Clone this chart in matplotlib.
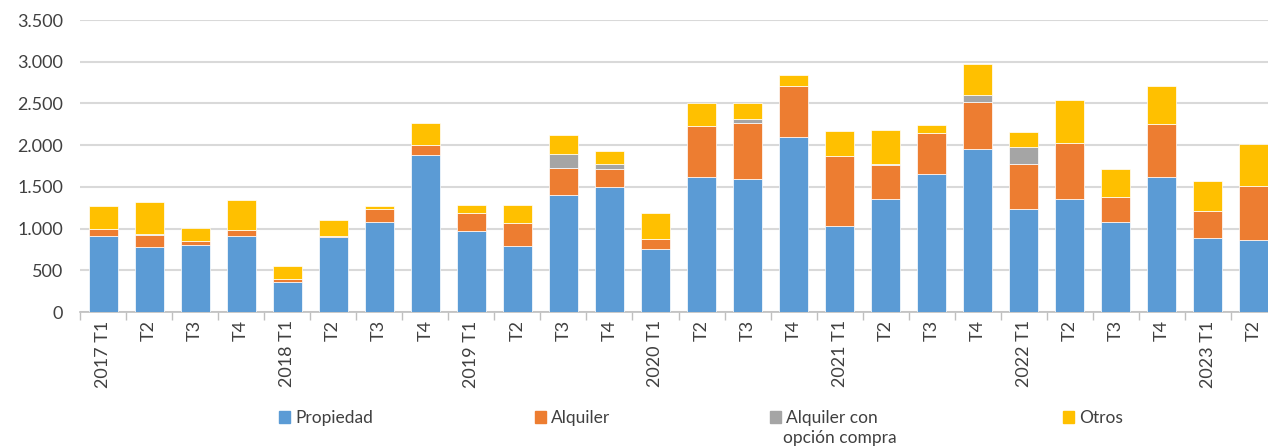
import numpy as np
import matplotlib
matplotlib.use('Agg')
import matplotlib.pyplot as plt
from matplotlib.patches import Patch

plt.rcParams['font.family'] = ['Lato', 'DejaVu Sans']

# datos
trimestres = ['2017 T1', 'T2', 'T3', 'T4', '2018 T1', 'T2', 'T3', 'T4',
              '2019 T1', 'T2', 'T3', 'T4', '2020 T1', 'T2', 'T3', 'T4',
              '2021 T1', 'T2', 'T3', 'T4', '2022 T1', 'T2', 'T3', 'T4',
              '2023 T1', 'T2']
propiedad = [910, 780, 800, 915, 365, 895, 1073, 1877,
             965, 797, 1400, 1493, 756, 1620, 1589, 2100,
             1032, 1349, 1660, 1952, 1229, 1349, 1080, 1613,
             888, 868]
alquiler = [80, 145, 50, 65, 35, 10, 163, 127,
            223, 264, 321, 216, 120, 612, 679, 612,
            840, 418, 488, 561, 540, 672, 300, 639,
            324, 644]
opcion_compra = [0, 5, 0, 0, 0, 0, 0, 0,
                 0, 0, 171, 60, 0, 0, 48, 0,
                 0, 5, 0, 91, 207, 0, 0, 0,
                 0, 0]
otros = [275, 390, 155, 360, 150, 195, 32, 257,
         92, 219, 232, 163, 305, 272, 188, 125,
         296, 405, 96, 365, 177, 519, 332, 456,
         356, 500]
yticks = [0, 500, 1000, 1500, 2000, 2500, 3000, 3500]

colores = ['#5B9BD5', '#ED7D31', '#A5A5A5', '#FFC000']
gris_txt = '#404040'

fig = plt.figure(figsize=(12.68, 4.48), dpi=100)
ax = fig.add_axes([80/1268, 136/448, 1197/1268, 292/448])

x = np.arange(len(trimestres))
base = np.zeros(len(trimestres))
for serie, col in zip([propiedad, alquiler, opcion_compra, otros], colores):
    ax.bar(x, serie, bottom=base, width=0.63, color=col, edgecolor='white', linewidth=0.5, zorder=3)
    base = base + np.array(serie)

ax.set_xlim(-0.5, len(trimestres) - 0.5)
ax.set_ylim(0, 3500)
ax.set_yticks(yticks)
ax.set_yticklabels([f'{v:,}'.replace(',', '.') for v in yticks], fontsize=13, color=gris_txt)
ax.yaxis.grid(True, color='#D9D9D9', linewidth=1.5, zorder=0)
ax.tick_params(axis='y', length=0, pad=12)

ax.set_xticks(x)
ax.set_xticklabels(trimestres, rotation=90, fontsize=13, color=gris_txt)
ax.set_xticks(np.arange(len(trimestres) + 1) - 0.5, minor=True)
ax.tick_params(axis='x', which='major', length=0, pad=6)
ax.tick_params(axis='x', which='minor', length=6, color='#BFBFBF', width=1)

for s in ['top', 'right', 'left']:
    ax.spines[s].set_visible(False)
ax.spines['bottom'].set_color('#BFBFBF')
ax.spines['bottom'].set_linewidth(1.2)

# leyenda
nombres = ['Propiedad', 'Alquiler', 'Alquiler con', 'Otros']
pos_x = [270, 526, 761, 1054]
for nom, col, px in zip(nombres, colores, pos_x):
    fig.legend(handles=[Patch(color=col)], labels=[nom], loc='center left',
               bbox_to_anchor=(px / 1268, 1 - 418 / 448), frameon=False,
               fontsize=12.5, handlelength=0.65, handleheight=0.65,
               handletextpad=0.3, borderpad=0, labelcolor=gris_txt)
fig.text(783 / 1268, 1 - 438 / 448, 'opción compra', fontsize=12.5, color=gris_txt,
         va='center', ha='left')

fig.savefig('out.png', dpi=100)
